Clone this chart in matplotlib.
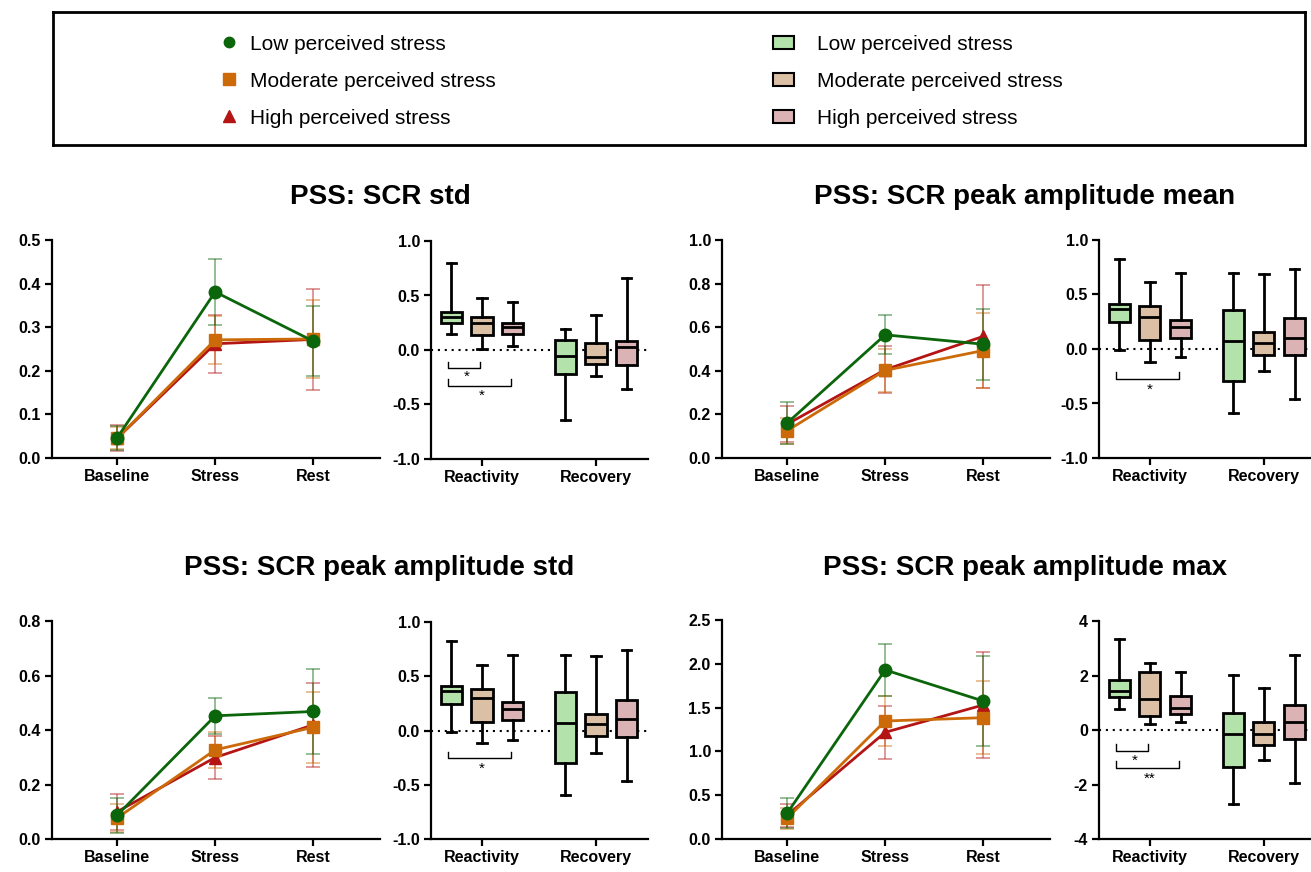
import numpy as np
import matplotlib
matplotlib.use("Agg")
import matplotlib.pyplot as plt
from matplotlib.lines import Line2D
from matplotlib.patches import Patch

plt.rcParams['font.family'] = ['Liberation Sans', 'DejaVu Sans']
plt.rcParams['axes.unicode_minus'] = False

# ---- data ----
groups = ["Low perceived stress", "Moderate perceived stress", "High perceived stress"]
phases = ["Baseline", "Stress", "Rest"]
changes = ["Reactivity", "Recovery"]

# means / error bars per group (low, moderate, high) x phase
scr_std_means = [[0.046, 0.381, 0.268], [0.045, 0.271, 0.273], [0.045, 0.262, 0.272]]
scr_std_errs = [[0.028, 0.076, 0.081], [0.025, 0.055, 0.090], [0.030, 0.067, 0.115]]
amp_mean_means = [[0.160, 0.565, 0.522], [0.125, 0.402, 0.493], [0.155, 0.405, 0.558]]
amp_mean_errs = [[0.097, 0.090, 0.162], [0.060, 0.100, 0.170], [0.082, 0.108, 0.235]]
amp_std_means = [[0.087, 0.452, 0.468], [0.077, 0.327, 0.410], [0.100, 0.299, 0.419]]
amp_std_errs = [[0.065, 0.067, 0.156], [0.050, 0.065, 0.130], [0.066, 0.078, 0.155]]
amp_max_means = [[0.293, 1.930, 1.575], [0.236, 1.347, 1.385], [0.270, 1.218, 1.530]]
amp_max_errs = [[0.170, 0.300, 0.510], [0.120, 0.290, 0.420], [0.130, 0.300, 0.600]]

# box stats [whisker low, q1, median, q3, whisker high] per group
scr_std_react = [[0.147, 0.251, 0.300, 0.346, 0.795], [0.009, 0.138, 0.245, 0.306, 0.474], [0.037, 0.144, 0.214, 0.251, 0.443]]
scr_std_recov = [[-0.642, -0.223, -0.055, 0.092, 0.190], [-0.239, -0.128, -0.067, 0.067, 0.321], [-0.361, -0.138, 0.031, 0.083, 0.657]]
amp_mean_react = [[-0.006, 0.245, 0.367, 0.413, 0.826], [-0.122, 0.086, 0.297, 0.398, 0.612], [-0.076, 0.098, 0.199, 0.266, 0.694]]
amp_mean_recov = [[-0.590, -0.291, 0.070, 0.358, 0.694], [-0.199, -0.055, 0.055, 0.153, 0.688], [-0.459, -0.055, 0.101, 0.281, 0.734]]
amp_std_react = [[-0.014, 0.240, 0.366, 0.409, 0.825], [-0.112, 0.081, 0.295, 0.387, 0.601], [-0.087, 0.096, 0.194, 0.265, 0.693]]
amp_std_recov = [[-0.593, -0.296, 0.072, 0.357, 0.698], [-0.204, -0.051, 0.060, 0.148, 0.684], [-0.470, -0.057, 0.103, 0.280, 0.740]]
amp_max_react = [[0.78, 1.20, 1.43, 1.84, 3.34], [0.21, 0.53, 1.14, 2.13, 2.45], [0.31, 0.59, 0.82, 1.23, 2.14]]
amp_max_recov = [[-2.71, -1.34, -0.15, 0.62, 2.02], [-1.09, -0.54, -0.15, 0.29, 1.53], [-1.95, -0.34, 0.31, 0.92, 2.75]]

# significance brackets: (group i, group j, tick top, bracket y, star y, label)
scr_std_sig = [(0, 1, -0.107, -0.168, -0.250, "*"), (0, 2, -0.266, -0.327, -0.420, "*")]
amp_mean_sig = [(0, 2, -0.214, -0.275, -0.372, "*")]
amp_std_sig = [(0, 2, -0.195, -0.256, -0.352, "*")]
amp_max_sig = [(0, 1, -0.52, -0.76, -1.14, "*"), (0, 2, -1.15, -1.40, -1.80, "**")]

line_colors = ['#0b650b', '#cc6a0a', '#b41414']
box_colors = ['#b3e2aa', '#dcc0a6', '#dcb3b5']
markers = ['o', 's', '^']
marker_sizes = [9, 8.5, 9]
offsets = [-0.27, 0.0, 0.27]

W, H = 1311, 872
fig = plt.figure(figsize=(W / 100, H / 100), dpi=100)


def add_ax(l, t, r, b):
    return fig.add_axes([l / W, 1 - b / H, (r - l) / W, (b - t) / H])


def style(ax):
    for s in ['top', 'right']:
        ax.spines[s].set_visible(False)
    for s in ['left', 'bottom']:
        ax.spines[s].set_linewidth(1.6)
    ax.tick_params(direction='out', length=5, width=1.6, labelsize=11.5, pad=3)


def line_panel(ax, means, errs, yticks, fmt):
    style(ax)
    x = np.arange(len(phases))
    for i in [2, 1, 0]:
        ax.errorbar(x, means[i], yerr=errs[i], fmt='none', ecolor=line_colors[i],
                    elinewidth=1.2, capsize=5, capthick=1.2, alpha=0.5, zorder=2)
    for i in [2, 1, 0]:
        ax.plot(x, means[i], color=line_colors[i], lw=2, marker=markers[i],
                ms=marker_sizes[i], zorder=3 + (2 - i))
    ax.set_xlim(-0.663, 2.68)
    ax.set_ylim(yticks[0], yticks[-1])
    ax.set_xticks(x, labels=phases, fontweight='bold')
    ax.set_yticks(yticks, labels=[fmt % t for t in yticks], fontweight='bold')


def box_panel(ax, react, recov, yticks, fmt, sig, xmax):
    style(ax)
    stats, positions, colors = [], [], []
    for g, data in enumerate([react, recov]):
        for i in range(3):
            lo, q1, med, q3, hi = data[i]
            stats.append(dict(whislo=lo, q1=q1, med=med, q3=q3, whishi=hi, fliers=[]))
            positions.append(g + offsets[i])
            colors.append(box_colors[i])
    bp = ax.bxp(stats, positions=positions, widths=0.185, patch_artist=True,
                showfliers=False, capwidths=0.08,
                boxprops=dict(linewidth=2, edgecolor='black'),
                medianprops=dict(color='black', linewidth=2),
                whiskerprops=dict(linewidth=2), capprops=dict(linewidth=2))
    for patch, c in zip(bp['boxes'], colors):
        patch.set_facecolor(c)
    ax.axhline(0, color='black', ls=(0, (1, 2.3)), lw=1.5, zorder=0)
    for i, j, ytop, ybr, ystar, lab in sig:
        x1 = offsets[i] - 0.03
        x2 = offsets[j] - 0.015
        ax.plot([x1, x1, x2, x2], [ytop, ybr, ybr, ytop], color='black', lw=1)
        ax.text((x1 + x2) / 2 + 0.02, ystar, lab, ha='center', va='center', fontsize=11)
    ax.set_xlim(-0.447, xmax)
    ax.set_ylim(yticks[0], yticks[-1])
    ax.set_xticks([0, 1], labels=changes, fontweight='bold')
    ax.set_yticks(yticks, labels=[fmt % t for t in yticks], fontweight='bold')


# top-left: SCR std
ax = add_ax(52, 240, 380, 458)
line_panel(ax, scr_std_means, scr_std_errs, np.arange(0, 0.51, 0.1), '%.1f')
ax = add_ax(431, 241, 648, 459)
box_panel(ax, scr_std_react, scr_std_recov, np.arange(-1, 1.01, 0.5), '%.1f', scr_std_sig, 1.456)

# top-right: peak amplitude mean
ax = add_ax(722, 240, 1050, 458)
line_panel(ax, amp_mean_means, amp_mean_errs, np.arange(0, 1.01, 0.2), '%.1f')
ax = add_ax(1099, 240, 1310, 458)
box_panel(ax, amp_mean_react, amp_mean_recov, np.arange(-1, 1.01, 0.5), '%.1f', amp_mean_sig, 1.404)

# bottom-left: peak amplitude std
ax = add_ax(52, 621, 380, 839)
line_panel(ax, amp_std_means, amp_std_errs, np.arange(0, 0.81, 0.2), '%.1f')
ax = add_ax(431, 622, 648, 839)
box_panel(ax, amp_std_react, amp_std_recov, np.arange(-1, 1.01, 0.5), '%.1f', amp_std_sig, 1.456)

# bottom-right: peak amplitude max
ax = add_ax(722, 620, 1050, 839)
line_panel(ax, amp_max_means, amp_max_errs, np.arange(0, 2.51, 0.5), '%.1f')
ax = add_ax(1099, 621, 1310, 839)
box_panel(ax, amp_max_react, amp_max_recov, np.arange(-4, 4.01, 2), '%d', amp_max_sig, 1.404)

# titles
titles = ["PSS: SCR std", "PSS: SCR peak amplitude mean",
          "PSS: SCR peak amplitude std", "PSS: SCR peak amplitude max"]
title_pos = [(380, 197), (1025, 197), (379, 568), (1025, 568)]
for t, (px, py) in zip(titles, title_pos):
    fig.text(px / W, 1 - py / H, t, ha='center', va='center', fontsize=20, fontweight='bold')

# legend box
lax = add_ax(53, 12, 1305, 145)
lax.set_xticks([])
lax.set_yticks([])
lax.set_facecolor('none')
for s in lax.spines.values():
    s.set_linewidth(2)

h1 = [Line2D([], [], ls='none', marker=markers[i], color=line_colors[i], ms=[7.5, 8, 8][i])
      for i in range(3)]
leg1 = lax.legend(h1, groups, loc='center left', bbox_to_anchor=(0.132, 0.48), frameon=False,
                  fontsize=15, handlelength=1, handletextpad=0.5, labelspacing=0.87,
                  borderpad=0, borderaxespad=0)
lax.add_artist(leg1)
h2 = [Patch(facecolor=box_colors[i], edgecolor='black', linewidth=1.5) for i in range(3)]
lax.legend(h2, groups, loc='center left', bbox_to_anchor=(0.575, 0.48), frameon=False,
           fontsize=15, handlelength=1, handleheight=0.6, handletextpad=1.1, labelspacing=0.87,
           borderpad=0, borderaxespad=0)

fig.savefig("out.png", dpi=100)
